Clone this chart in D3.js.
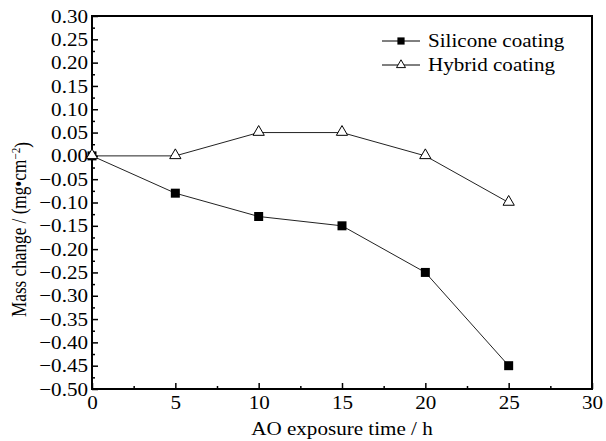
<!DOCTYPE html>
<html>
<head>
<meta charset="utf-8">
<script src="https://cdn.jsdelivr.net/npm/d3@7"></script>
<style>
  body { margin: 0; background: #fff; }
  text { font-family: "Liberation Serif", "Times New Roman", serif; fill: #000; }
</style>
</head>
<body>
<svg id="chart"></svg>
<script>
// Data
let hours = [0, 5, 10, 15, 20, 25];
let silicone = [0, -0.08, -0.13, -0.15, -0.25, -0.45];
let hybrid = [0, 0, 0.05, 0.05, 0, -0.10];
let seriesNames = ["Silicone coating", "Hybrid coating"];
let xTicks = [0, 5, 10, 15, 20, 25, 30];
let yTicks = [0.30, 0.25, 0.20, 0.15, 0.10, 0.05, 0.00, -0.05, -0.10, -0.15, -0.20, -0.25, -0.30, -0.35, -0.40, -0.45, -0.50];

let width = 606, height = 441;
let margin = {top: 16, right: 14, bottom: 52, left: 92};
let sx = 1.11; // glyphs in the figure are a bit wider than normal

let svg = d3.select("#chart")
  .attr("width", width)
  .attr("height", height)
  .attr("viewBox", [0, 0, width, height]);

let x = d3.scaleLinear().domain([0, 30]).range([margin.left, width - margin.right]);
let y = d3.scaleLinear().domain([-0.5, 0.3]).range([height - margin.bottom, margin.top]);

// minor ticks half way between the major ones
let xMinor = xTicks.slice(1).map((d, i) => (d + xTicks[i]) / 2);
let yMinor = yTicks.slice(1).map((d, i) => (d + yTicks[i]) / 2);

// minor ticks
svg.append("g")
  .attr("transform", "translate(0," + y.range()[0] + ")")
  .call(d3.axisBottom(x).tickValues(xMinor).tickSizeInner(-3).tickSizeOuter(0).tickFormat(""))
  .call(g => g.select(".domain").remove())
  .call(g => g.selectAll("line").attr("stroke", "#000").attr("stroke-width", 1.5));

svg.append("g")
  .attr("transform", "translate(" + x.range()[0] + ",0)")
  .call(d3.axisLeft(y).tickValues(yMinor).tickSizeInner(-3).tickSizeOuter(0).tickFormat(""))
  .call(g => g.select(".domain").remove())
  .call(g => g.selectAll("line").attr("stroke", "#000").attr("stroke-width", 1.5));

// major ticks and labels
svg.append("g")
  .attr("transform", "translate(0," + y.range()[0] + ")")
  .call(d3.axisBottom(x).tickValues(xTicks).tickSizeInner(-6).tickSizeOuter(0).tickPadding(7).tickFormat(d3.format("d")))
  .call(g => g.select(".domain").remove())
  .call(g => g.selectAll("line").attr("stroke", "#000").attr("stroke-width", 1.5))
  .call(g => g.selectAll("text")
    .attr("font-size", "19px")
    .attr("font-family", null)
    .attr("transform", "scale(" + sx + ",1)"));

svg.append("g")
  .attr("transform", "translate(" + x.range()[0] + ",0)")
  .call(d3.axisLeft(y).tickValues(yTicks).tickSizeInner(-6).tickSizeOuter(0).tickPadding(3.6).tickFormat(d3.format(".2f")))
  .call(g => g.select(".domain").remove())
  .call(g => g.selectAll("line").attr("stroke", "#000").attr("stroke-width", 1.5))
  .call(g => g.selectAll("text")
    .attr("font-size", "19px")
    .attr("font-family", null)
    .attr("transform", "scale(" + sx + ",1)"));

// frame
svg.append("rect")
  .attr("x", x.range()[0])
  .attr("y", y.range()[1])
  .attr("width", x.range()[1] - x.range()[0])
  .attr("height", y.range()[0] - y.range()[1])
  .attr("fill", "none")
  .attr("stroke", "#000")
  .attr("stroke-width", 2);

// series
let line = d3.line().x(d => x(d[0])).y(d => y(d[1]));
let sData = hours.map((h, i) => [h, silicone[i]]);
let hData = hours.map((h, i) => [h, hybrid[i]]);

svg.append("path").datum(sData)
  .attr("d", line).attr("fill", "none").attr("stroke", "#222").attr("stroke-width", 1);
svg.append("path").datum(hData)
  .attr("d", line).attr("fill", "none").attr("stroke", "#222").attr("stroke-width", 1);

let squareSym = d3.symbol().type(d3.symbolSquare).size(81);
let triSym = d3.symbol().type(d3.symbolTriangle).size(55);

svg.append("g").selectAll("path").data(sData).join("path")
  .attr("transform", d => "translate(" + x(d[0]) + "," + y(d[1]) + ")")
  .attr("d", squareSym)
  .attr("fill", "#000");

svg.append("g").selectAll("path").data(hData).join("path")
  .attr("transform", d => "translate(" + x(d[0]) + "," + (y(d[1]) - 0.5) + ")")
  .attr("d", triSym)
  .attr("fill", "#fff")
  .attr("stroke", "#000")
  .attr("stroke-width", 1);

// legend
let legend = svg.append("g");
let rows = [{name: seriesNames[0], sym: squareSym, fill: "#000", y: 41},
            {name: seriesNames[1], sym: triSym, fill: "#fff", y: 65}];
rows.forEach(r => {
  legend.append("line")
    .attr("x1", 382).attr("x2", 420).attr("y1", r.y).attr("y2", r.y)
    .attr("stroke", "#000").attr("stroke-width", 1);
  legend.append("path")
    .attr("transform", "translate(401," + r.y + ") scale(0.8)")
    .attr("d", r.sym)
    .attr("fill", r.fill)
    .attr("stroke", r.fill == "#fff" ? "#000" : "none")
    .attr("stroke-width", 1.2);
  legend.append("text")
    .attr("transform", "translate(428," + (r.y + 6) + ") scale(" + sx + ",1)")
    .attr("font-size", "19px")
    .text(r.name);
});

// axis titles
svg.append("text")
  .attr("transform", "translate(342,435) scale(" + sx + ",1)")
  .attr("text-anchor", "middle")
  .attr("font-size", "19px")
  .text("AO exposure time / h");

// vertical title: glyphs are narrower along the text direction here
let yTitle = svg.append("text")
  .attr("transform", "translate(26,317) rotate(-90) scale(0.86,1)")
  .attr("text-anchor", "start")
  .attr("font-size", "20px");
yTitle.append("tspan").text("Mass change / (mg\u2022cm");
yTitle.append("tspan").attr("dy", "-0.45em").attr("font-size", "13px").text("\u22122");
yTitle.append("tspan").attr("dy", "0.45em").text(")");
</script>
</body>
</html>
